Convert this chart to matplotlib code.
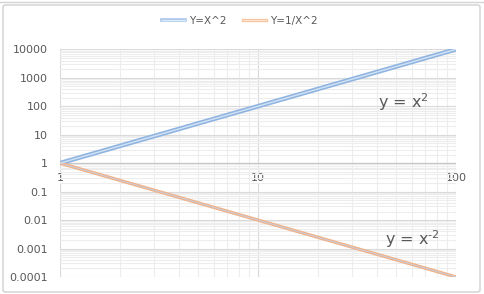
import matplotlib
matplotlib.use("Agg")
import matplotlib.pyplot as plt
from matplotlib.lines import Line2D
from matplotlib.legend_handler import HandlerTuple
from matplotlib.patches import FancyBboxPatch
from matplotlib.ticker import LogLocator, NullFormatter, FixedLocator, FixedFormatter

# data
x_vals = [1, 10, 100]
y_square = [1, 100, 10000]
y_inv_square = [1, 0.01, 0.0001]
series_names = ["Y=X^2", "Y=1/X^2"]
x_ticks = [1, 10, 100]
x_labels = ["1", "10", "100"]
y_ticks = [0.0001, 0.001, 0.01, 0.1, 1, 10, 100, 1000, 10000]
y_labels = ["0.0001", "0.001", "0.01", "0.1", "1", "10", "100", "1000", "10000"]

W, H = 484, 294
TXT = "#595959"
BLUE_OUT, BLUE_IN = "#8fb4e0", "#d3e3f5"
ORNG_OUT, ORNG_IN = "#f4b183", "#c8cbd8"


def fx(px):
    return px / W


def fy(py):
    # pixel rows are counted from the top
    return 1 - py / H


fig = plt.figure(figsize=(W / 100, H / 100), dpi=100)
fig.patch.set_facecolor("white")

# chart frame like the excel chart object
frame = FancyBboxPatch((fx(3), fy(292)), fx(477), 287 / H,
                       boxstyle="round,pad=0,rounding_size=0.006",
                       transform=fig.transFigure, fc="white", ec="#d0d0d0", lw=1.0,
                       zorder=-5)
fig.patches.append(frame)
fig.add_artist(Line2D([0, 1], [fy(1.5), fy(1.5)], color="#d4d4d4", lw=1.0, zorder=-5))

ax = fig.add_axes([fx(60), fy(277), fx(396), (277 - 49.3) / H])
ax.set_zorder(2)
ax.set_facecolor("none")
ax.set_xscale("log")
ax.set_yscale("log")
ax.set_xlim(1, 100)
ax.set_ylim(0.0001, 10000)

for s in ax.spines.values():
    s.set_visible(False)

ax.xaxis.set_minor_locator(LogLocator(base=10, subs=range(2, 10)))
ax.yaxis.set_minor_locator(LogLocator(base=10, subs=range(2, 10), numticks=20))
ax.xaxis.set_minor_formatter(NullFormatter())
ax.yaxis.set_minor_formatter(NullFormatter())
ax.grid(True, which="minor", color="#ededed", lw=0.8)
ax.grid(True, which="major", color="#d9d9d9", lw=0.8)
ax.set_axisbelow(True)

ax.yaxis.set_major_locator(FixedLocator(y_ticks))
ax.yaxis.set_major_formatter(FixedFormatter(y_labels))
ax.xaxis.set_major_locator(FixedLocator(x_ticks))
ax.xaxis.set_major_formatter(FixedFormatter(x_labels))
ax.tick_params(which="both", length=0)
ax.tick_params(axis="y", labelsize=8, labelcolor=TXT, pad=8.5)
ax.tick_params(axis="x", labelsize=8, labelcolor=TXT, pad=7)

# horizontal axis crosses at y = 1
ax.axhline(1, color="#c8c8c8", lw=0.9, zorder=1.5)
ax.spines["bottom"].set_position(("data", 1))
for lbl in ax.get_xticklabels():
    lbl.set_bbox(dict(fc="white", ec="none", pad=0.5))

# doubled lines, drawn as a wide stroke with a light centre
ax.plot(x_vals, y_square, color=BLUE_OUT, lw=3.3, solid_capstyle="butt", zorder=3)
ax.plot(x_vals, y_square, color=BLUE_IN, lw=1.0, solid_capstyle="butt", zorder=3.1)
ax.plot(x_vals, y_inv_square, color=ORNG_OUT, lw=2.4, solid_capstyle="butt", zorder=3)
ax.plot(x_vals, y_inv_square, color=ORNG_IN, lw=0.8, solid_capstyle="butt", zorder=3.1)

fig.text(fx(378), fy(108), r"y = x$^2$", fontsize=11.5, color=TXT)
fig.text(fx(385), fy(245), r"y = x$^{\text{-}2}$", fontsize=11.5, color=TXT)

handles = [
    (Line2D([], [], color="#a9c6ea", lw=2.6), Line2D([], [], color="#e2ecf8", lw=0.8)),
    (Line2D([], [], color="#f7c4a0", lw=2.4), Line2D([], [], color="#fbe4d4", lw=0.8)),
]
fig.legend(handles, series_names, loc="center", bbox_to_anchor=(fx(240), fy(21)),
           ncol=2, frameon=False, fontsize=7.5, labelcolor=TXT,
           handlelength=2.2, handletextpad=0.4, columnspacing=1.6,
           handler_map={tuple: HandlerTuple(ndivide=1, pad=0)})

fig.savefig("out.png", dpi=100)
